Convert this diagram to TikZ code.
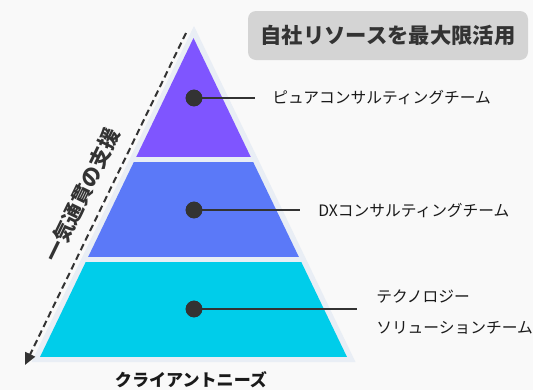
\documentclass[tikz,border=0pt]{standalone}
\usepackage{fontspec}
\setmainfont{Noto Sans CJK JP}
\newfontfamily\jpfont{Noto Sans CJK JP}
\usetikzlibrary{arrows.meta}
\definecolor{bgc}{HTML}{F9F9F9}
\definecolor{palec}{HTML}{E9EEF5}
\definecolor{tierA}{HTML}{7F55FF}
\definecolor{tierB}{HTML}{5B79F8}
\definecolor{tierC}{HTML}{00CDEA}
\definecolor{darkc}{HTML}{333333}
\definecolor{boxc}{HTML}{D4D4D4}
\definecolor{txtc}{HTML}{1A1A1A}
\tikzset{
  dotnode/.style={circle, fill=darkc, inner sep=0pt, minimum size=12.5pt},
  leader/.style={draw=darkc, line width=1.9pt},
  teamlabel/.style={anchor=west, inner sep=0pt, text=txtc, font=\jpfont\fontsize{11.8pt}{18pt}\selectfont, align=left},
  flowarrow/.style={draw=darkc, line width=1.5pt, dash pattern=on 5pt off 3pt, -{Triangle[length=9pt,width=8pt]}},
}
\begin{document}
\begin{tikzpicture}[x=0.75pt,y=-0.75pt]
\fill[bgc] (0,0) rectangle (533,390);
\useasboundingbox (0,0) rectangle (533,390);
% outer pale triangle
\fill[palec] (194,26) -- (355.5,362) -- (31.5,362) -- cycle;
% tiers clipped to inner triangle
\begin{scope}
\clip (193.5,38) -- (347,357) -- (40,357) -- cycle;
\fill[tierA] (0,30) rectangle (400,157);
\fill[tierB] (0,162) rectangle (400,257);
\fill[tierC] (0,262) rectangle (400,357);
\end{scope}
% dashed arrow
\coordinate (arrS) at (186,33);
\coordinate (arrE) at (25,365);
\draw[flowarrow] (arrS) -- (arrE);
\node[rotate=64.1, inner sep=0pt, text=darkc, font=\jpfont\bfseries\fontsize{15.5pt}{18pt}\selectfont] (flowlbl) at (82,195) {一気通貫の支援};
% title box
\node[fill=boxc, rounded corners=6pt, minimum width=210pt, minimum height=36.75pt, inner sep=0pt, text=darkc, font=\jpfont\bfseries\fontsize{16pt}{18pt}\selectfont] (title) at (388,35.5) {自社リソースを最大限活用};
% dots and leaders
\node[dotnode] (d1) at (194,98) {};
\node[dotnode] (d2) at (194,210) {};
\node[dotnode] (d3) at (194,309) {};
\coordinate (e1) at (255,98);
\coordinate (e2) at (300,210);
\coordinate (e3) at (357,309);
\draw[leader] (d1.center) -- (e1);
\draw[leader] (d2.center) -- (e2);
\draw[leader] (d3.center) -- (e3);
\node[dotnode] at (d1) {};
\node[dotnode] at (d2) {};
\node[dotnode] at (d3) {};
% labels
\node[teamlabel] (l1) at (272,98) {ピュアコンサルティングチーム};
\node[teamlabel] (l2) at (318,211) {DXコンサルティングチーム};
\node[teamlabel] (l3a) at (376,297) {テクノロジー};
\node[teamlabel] (l3b) at (376,328) {ソリューションチーム};
% bottom label
\node[text=txtc, font=\jpfont\bfseries\fontsize{12.8pt}{16pt}\selectfont] (client) at (191,380) {クライアントニーズ};
\end{tikzpicture}
\end{document}
